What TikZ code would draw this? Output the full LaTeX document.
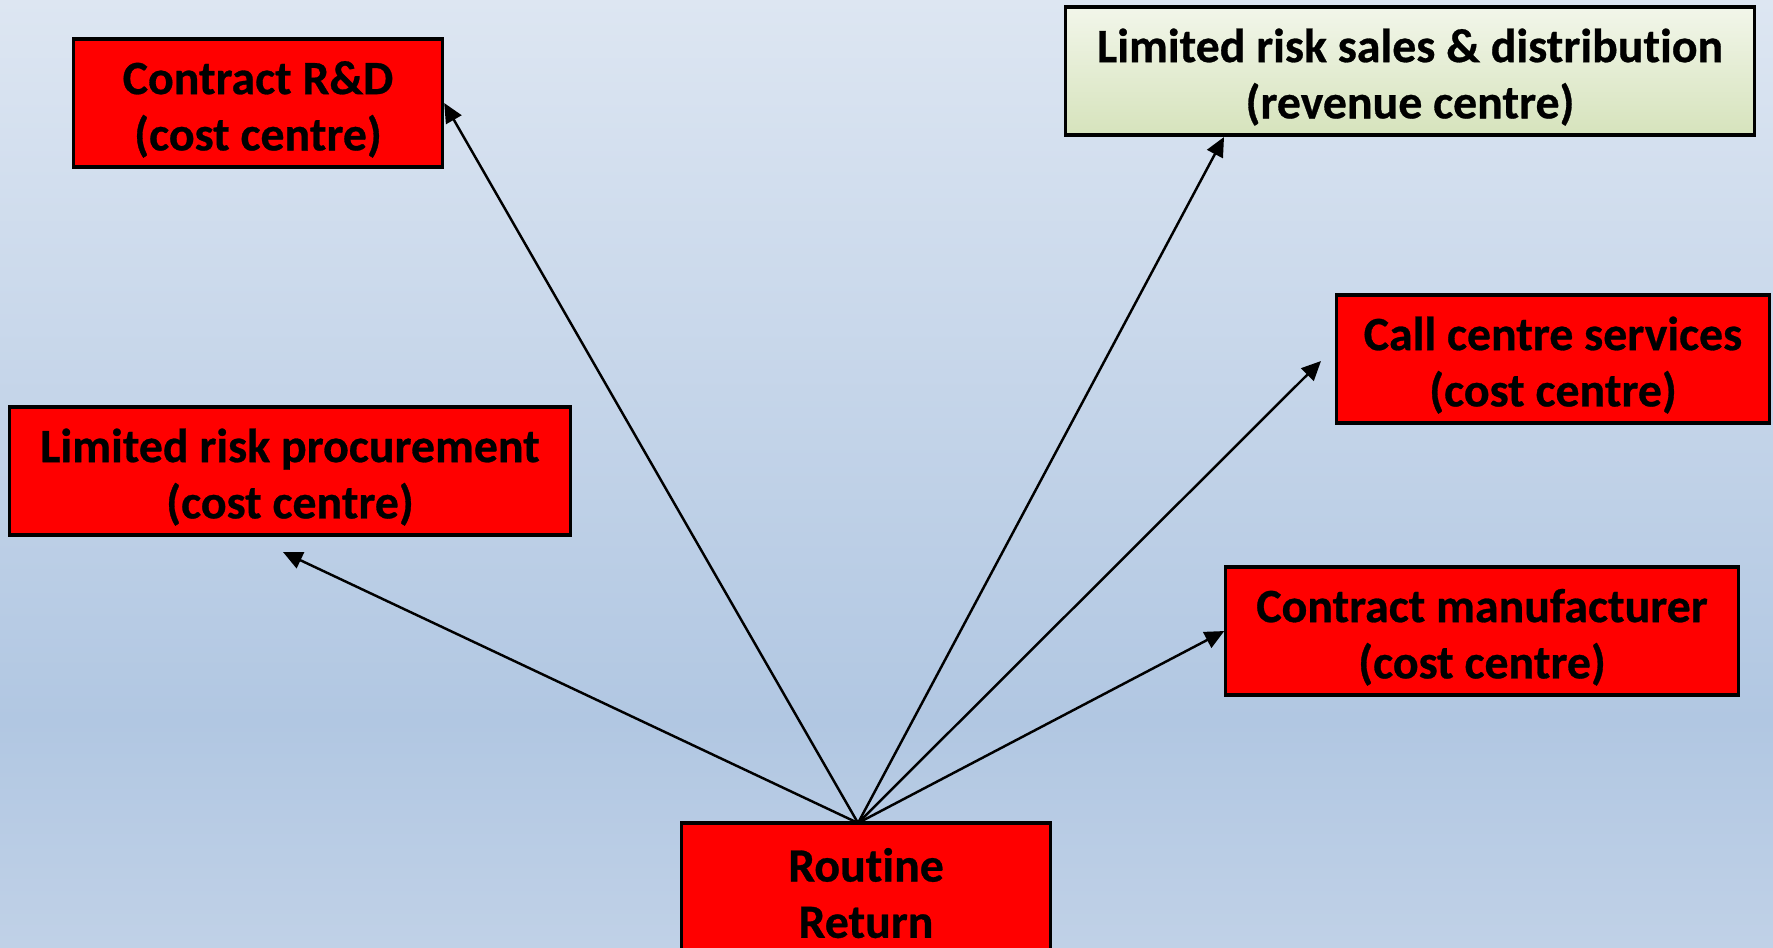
\documentclass[tikz,border=0pt]{standalone}
\usepackage{fontspec}
\setmainfont{Carlito}[Ligatures=NoCommon, BoldFeatures={FakeBold=0.6}]
\usetikzlibrary{arrows.meta}

\definecolor{bgtop}{RGB}{221,230,242}
\definecolor{bgmid}{RGB}{177,199,226}
\definecolor{bgbot}{RGB}{192,209,231}
\definecolor{grtop}{RGB}{242,246,234}
\definecolor{grbot}{RGB}{214,227,188}

\pgfdeclareverticalshading{bgshade}{100bp}{color(0bp)=(bgbot); color(25bp)=(bgbot); color(37bp)=(bgmid); color(75bp)=(bgtop); color(100bp)=(bgtop)}
\pgfdeclareverticalshading{greenshade}{100bp}{color(0bp)=(grbot); color(25bp)=(grbot); color(75bp)=(grtop); color(100bp)=(grtop)}

\newcommand{\topline}{\rule{0pt}{13pt}}

\tikzset{
  centre/.style={draw=black, line width=0.9pt, fill=red, align=center,
    font=\fontsize{13.6}{16}\selectfont\bfseries, inner sep=0pt, minimum height=1.28cm},
  link/.style={-{Triangle[length=5.5pt,width=5pt]}, line width=0.7pt},
}

\begin{document}
\begin{tikzpicture}[x=0.01cm,y=-0.01cm]
\path[shading=bgshade] (0,0) rectangle (1773,947);
\useasboundingbox (0,0) rectangle (1773,947);
\clip (0,0) rectangle (1773,947);

% centres
\node[centre, minimum width=3.69cm] (crd) at (258,103) {\topline Contract R\&D\\(cost centre)};
\node[centre, minimum width=6.88cm, fill=none, shading=greenshade] (lrs) at (1410,71) {\topline Limited risk sales \& distribution\\(revenue centre)};
\node[centre, minimum width=4.32cm] (ccs) at (1553,359) {\topline Call centre services\\(cost centre)};
\node[centre, minimum width=5.61cm] (lrp) at (290,471) {\topline Limited risk procurement\\(cost centre)};
\node[centre, minimum width=5.12cm] (cm) at (1482,631) {\topline Contract manufacturer\\(cost centre)};
\node[centre, minimum width=3.68cm] (rr) at (866,887) {\topline Routine\\ Return};

% arrows out of the routine return
\coordinate (src) at (858,823);
\coordinate (lrsend) at (1224,137);
\coordinate (ccsend) at (1321,361);
\coordinate (lrpend) at (283,552);
\draw[link] (src) -- (crd.east);
\draw[link] (src) -- (lrsend);
\draw[link] (src) -- (ccsend);
\draw[link] (src) -- (lrpend);
\draw[link] (src) -- (cm.west);
\end{tikzpicture}
\end{document}
